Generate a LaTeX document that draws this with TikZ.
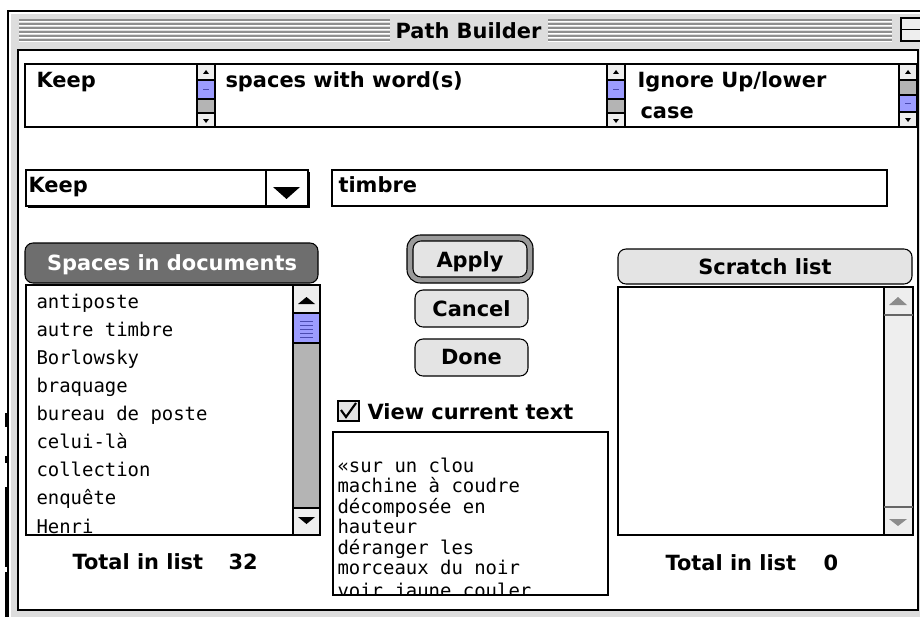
\documentclass[tikz,border=0pt]{standalone}
\usepackage{fontspec}
\setmainfont{DejaVu Sans}
\setmonofont{DejaVu Sans Mono}
\definecolor{wingray}{HTML}{DDDDDD}
\definecolor{stripegray}{HTML}{8E8E8E}
\definecolor{arrowgray}{HTML}{EEEEEE}
\definecolor{trackgray}{HTML}{B4B4B4}
\definecolor{thumbblue}{HTML}{9C9CFF}
\definecolor{thumbline}{HTML}{4A4AB0}
\definecolor{btngray}{HTML}{E4E4E4}
\definecolor{darkbtn}{HTML}{6E6E6E}
\definecolor{ringgray}{HTML}{9A9A9A}
\newcommand{\uifont}{\fontsize{15.7}{18}\selectfont\bfseries}
\newcommand{\listfont}{\fontsize{14.2}{16}\selectfont\ttfamily}

\begin{document}
\begin{tikzpicture}[x=0.75pt,y=-0.75pt,line width=0.8pt]
    \tikzstyle{every node}+=[inner sep=0pt]
    \tikzstyle{uitext}=[font=\uifont, anchor=base west]
    \tikzstyle{uicentre}=[font=\uifont, anchor=base]
    \tikzstyle{listtext}=[font=\listfont, anchor=base west]
    \tikzstyle{arrowbox}=[draw=black, fill=arrowgray]
    \tikzstyle{scrollthumb}=[draw=black, fill=thumbblue]
    \tikzstyle{scrolltrack}=[draw=black, fill=trackgray]
    \tikzstyle{macbutton}=[draw=black, fill=btngray, rounded corners=6]
    \useasboundingbox (0,0) rectangle (920,617);
    \fill [white] (0,0) rectangle (920,617);
    \fill [wingray] (8,11) rectangle (920,617);
    \draw [black] (8,617) -- (8,11) -- (920,11);
    \draw [white] (10,617) -- (10,13) -- (920,13);
    \draw [black, line width=1.5pt] (6,413) -- (6,427) (6,456) -- (6,463) (6,487) -- (6,567) (6,572) -- (6,617);
    \draw [stripegray] (19,20) -- (390,20) (19,24) -- (390,24) (19,28) -- (390,28) (19,32) -- (390,32) (19,36) -- (390,36) (19,40) -- (390,40);
    \draw [white] (19,21.4) -- (390,21.4) (19,25.4) -- (390,25.4) (19,29.4) -- (390,29.4) (19,33.4) -- (390,33.4) (19,37.4) -- (390,37.4) (19,41.4) -- (390,41.4);
    \draw [stripegray] (548,20) -- (892,20) (548,24) -- (892,24) (548,28) -- (892,28) (548,32) -- (892,32) (548,36) -- (892,36) (548,40) -- (892,40);
    \draw [white] (548,21.4) -- (892,21.4) (548,25.4) -- (892,25.4) (548,29.4) -- (892,29.4) (548,33.4) -- (892,33.4) (548,37.4) -- (892,37.4) (548,41.4) -- (892,41.4);
    \draw [black, fill=arrowgray] (901,18) rectangle (924,41);
    \draw [black] (901,29.5) -- (924,29.5);
    \draw (468.5,39) node (titleText) [uicentre] {Path Builder};
    \draw [black, line width=1.2pt, fill=white] (18,50) rectangle (918,610);
    \draw [black, fill=white] (25,64) rectangle (917,127);
    \draw [arrowbox] (197,64) rectangle (215,80);
    \draw [scrollthumb] (197,80) rectangle (215,99);
    \draw [scrolltrack] (197,99) rectangle (215,113);
    \draw [arrowbox] (197,113) rectangle (215,127);
    \fill [black] (203,74) -- (209,74) -- (206,70);
    \fill [black] (203,119) -- (209,119) -- (206,123);
    \draw [thumbline] (203,89.5) -- (209,89.5);
    \draw [arrowbox] (607,64) rectangle (625,80);
    \draw [scrollthumb] (607,80) rectangle (625,99);
    \draw [scrolltrack] (607,99) rectangle (625,113);
    \draw [arrowbox] (607,113) rectangle (625,127);
    \fill [black] (613,74) -- (619,74) -- (616,70);
    \fill [black] (613,119) -- (619,119) -- (616,123);
    \draw [thumbline] (613,89.5) -- (619,89.5);
    \draw [arrowbox] (899,64) rectangle (917,80);
    \draw [scrolltrack] (899,80) rectangle (917,95);
    \draw [scrollthumb] (899,95) rectangle (917,112);
    \draw [arrowbox] (899,112) rectangle (917,127);
    \fill [black] (905,74) -- (911,74) -- (908,70);
    \fill [black] (905,118) -- (911,118) -- (908,122);
    \draw [thumbline] (905,103.5) -- (911,103.5);
    \draw (36,88) node (keepCell) [uitext] {Keep};
    \draw (225,88) node (spacesCell) [uitext] {spaces with word(s)};
    \draw (637,88) node (ignoreCell) [uitext] {Ignore Up/lower};
    \draw (640,118) node (caseCell) [uitext] {case};
    \fill [black] (28,172) rectangle (310,208);
    \draw [black, fill=white] (26,170) rectangle (308,206);
    \draw [black] (266,170) -- (266,206);
    \fill [black] (273,187) -- (300,187) -- (286.5,199);
    \draw (28,192) node (keepPopup) [uitext] {Keep};
    \draw [black, fill=white] (332,170) rectangle (887,206);
    \draw (338,192) node (wordField) [uitext] {timbre};
    \draw [black, fill=darkbtn, rounded corners=6] (25,243) rectangle (318,283);
    \draw (172,270) node (spacesHead) [uicentre, text=white] {Spaces in documents};
    \draw [black, fill=white] (26,285) rectangle (320,535);
    \draw [arrowbox] (293,285) rectangle (320,313);
    \draw [scrollthumb] (293,313) rectangle (320,343);
    \draw [scrolltrack] (293,343) rectangle (320,508);
    \draw [arrowbox] (293,508) rectangle (320,535);
    \fill [black] (298,304) -- (315,304) -- (306.5,297);
    \fill [black] (298,517) -- (315,517) -- (306.5,524);
    \draw [thumbline, line width=0.6pt] (300,321) -- (313,321) (300,325) -- (313,325) (300,329) -- (313,329) (300,333) -- (313,333) (300,337) -- (313,337);
    \begin{scope}
    \clip (27,286) rectangle (292,534);
    \draw (36,308) node (spaceA) [listtext] {antiposte};
    \draw (36,336.1) node (spaceB) [listtext] {autre timbre};
    \draw (36,364.2) node (spaceC) [listtext] {Borlowsky};
    \draw (36,392.3) node (spaceD) [listtext] {braquage};
    \draw (36,420.4) node (spaceE) [listtext] {bureau de poste};
    \draw (36,448.5) node (spaceF) [listtext] {celui-là};
    \draw (36,476.6) node (spaceG) [listtext] {collection};
    \draw (36,504.7) node (spaceH) [listtext] {enquête};
    \draw (36,533.5) node (spaceI) [listtext] {Henri};
    \end{scope}
    \draw (72,569) node (totalLeft) [uitext] {Total in list};
    \draw (228,569) node (countLeft) [uitext] {32};
    \draw [black, fill=ringgray, rounded corners=10] (407,235) rectangle (533,283);
    \draw [macbutton] (413,241) rectangle (527,277);
    \draw (470,267) node (applyBtn) [uicentre] {Apply};
    \draw [macbutton] (415,290) rectangle (528,327);
    \draw (471.5,316) node (cancelBtn) [uicentre] {Cancel};
    \draw [macbutton] (415,339) rectangle (528,376);
    \draw (471.5,364) node (doneBtn) [uicentre] {Done};
    \draw [black, fill=btngray] (338,401) rectangle (359,421);
    \draw [black, line width=1.6pt] (341,410) -- (346,417) -- (356,403);
    \draw (367,419) node (viewText) [uitext] {View current text};
    \draw [black, fill=white] (333,432) rectangle (608,595);
    \begin{scope}
    \clip (334,433) rectangle (607,594);
    \draw (337,472) node (textA) [listtext] {«sur un clou};
    \draw (337,492.5) node (textB) [listtext] {machine à coudre};
    \draw (337,513) node (textC) [listtext] {décomposée en};
    \draw (337,533.5) node (textD) [listtext] {hauteur};
    \draw (337,554) node (textE) [listtext] {déranger les};
    \draw (337,574.5) node (textF) [listtext] {morceaux du noir};
    \draw (337,597) node (textG) [listtext] {voir jaune couler};
    \end{scope}
    \draw [macbutton] (618,249) rectangle (912,284);
    \draw (765,274) node (scratchHead) [uicentre] {Scratch list};
    \draw [black, fill=white] (618,287) rectangle (913,535);
    \draw [black, fill=arrowgray] (884,287) rectangle (913,535);
    \draw [black!60] (884,315) -- (913,315) (884,507) -- (913,507);
    \fill [black!45] (889,305) -- (907,305) -- (898,297);
    \fill [black!45] (889,519) -- (907,519) -- (898,526);
    \draw (665,570) node (totalRight) [uitext] {Total in list};
    \draw (823,570) node (countRight) [uitext] {0};
\end{tikzpicture}
\end{document}
